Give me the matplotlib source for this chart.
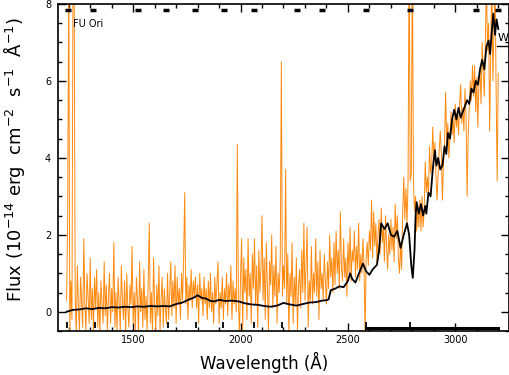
import numpy as np
import matplotlib
matplotlib.use("Agg")
import matplotlib.pyplot as plt
from matplotlib.ticker import MultipleLocator

# ---- data -------------------------------------------------------------
# observed IUE spectrum (orange), sampled every 5 A starting at 1190 A
obs_start = 1190
obs_step = 5
obs_flux = [
    0.3, 2.4, 9.0, -0.5, 0.8, -0.2, 9.0, 9.0, 0.4, -0.6,   # 1190
    1.2, 0.1, -0.5, 0.9, 0.3, -0.4, 1.9, 0.2, -0.5, 1.0,   # 1240
    0.4, -0.3, 1.4, -0.2, 0.6, -0.5, 0.9, 0.1, 1.1, -0.4,  # 1290
    0.5, -0.6, 0.8, 0.2, -0.3, 1.3, -0.1, 0.7, -0.5, 0.4,  # 1340
    1.0, -0.3, 0.6, 0.0, 1.8, -0.4, 0.5, -0.5, 0.9, 0.2,   # 1390
    -0.5, 1.2, 0.3, -0.2, 0.8, -0.6, 1.0, 0.1, -0.4, 0.7,  # 1440
    0.2, 1.7, -0.3, 0.5, -0.5, 0.9, 0.3, -0.6, 1.3, 0.0,   # 1490
    0.6, -0.4, 1.1, -0.2, 0.4, -0.5, 0.8, 2.3, -0.3, 0.5,  # 1540
    -0.6, 1.4, 0.2, -0.5, 0.7, -0.1, 1.2, -0.5, 0.3, 0.9,  # 1590
    -0.4, 0.6, 0.1, -0.3, 1.0, -0.2, 0.5, 1.3, -0.1, 0.8,  # 1640
    0.1, 1.2, -0.3, 0.9, 0.2, 0.6, -0.2, 1.0, 0.3, 1.4,    # 1690
    3.1, 0.2, 0.9, -0.2, 0.7, 0.3, 1.1, 0.1, 0.8, 0.4,     # 1740
    0.9, 0.1, 0.7, -0.3, 1.0, 0.3, 0.6, -0.1, 0.9, 0.2,    # 1790
    0.6, -0.2, 0.8, 0.1, 1.0, 0.0, 0.5, -0.3, 0.9, 0.2,    # 1840
    0.7, 1.3, -0.3, 0.5, 0.1, 0.9, -0.2, 0.6, 0.2, 1.0,    # 1890
    -0.1, 0.7, 0.3, 1.2, -0.2, 0.8, 0.2, 0.6, 0.0, 4.35,   # 1940
    0.3, -0.6, 0.9, 1.9, -0.5, 1.4, 0.5, 1.1, -0.2, 1.9,   # 1990
    0.4, 1.0, -0.3, 1.5, 0.6, 1.9, 0.2, 1.2, -0.4, 1.6,    # 2040
    0.5, 1.1, 2.5, 0.3, 1.4, -0.2, 1.8, 0.6, -0.5, 1.3,    # 2090
    0.7, 2.0, 0.1, 1.2, 0.4, 1.7, -0.3, 1.0, 0.5, 1.4,     # 2140
    6.5, 0.4, 1.2, 0.6, 3.7, 0.2, 1.5, -0.6, 1.0, 0.4,     # 2190
    1.8, -0.3, 0.9, 0.2, 1.4, -0.5, 0.7, 1.1, 0.1, 1.6,    # 2240
    0.5, 2.3, 0.3, 1.2, 2.2, -0.4, 0.8, 0.3, 1.7, 0.2,     # 2290
    1.0, 0.5, 1.9, 0.4, 1.3, -0.2, 1.6, 0.6, 1.0, 0.3,     # 2340
    1.5, 0.8, 0.2, 1.3, 0.6, 2.0, 0.9, 1.4, 0.5, 1.8,      # 2390
    0.7, 2.1, 1.0, 1.6, 0.6, 2.6, 1.1, 0.8, 1.9, 0.9,      # 2440
    1.4, 0.4, 1.8, 1.0, 2.2, 0.8, 1.6, 1.3, 2.1, 0.9,      # 2490
    1.7, 1.1, 2.3, 0.8, 1.5, 1.0, 1.9, 1.2, -0.6, 1.4,     # 2540
    1.8, 1.2, 2.1, 1.6, 2.9, 1.4, 2.6, 1.7, 2.3, 1.3,      # 2590
    2.0, 2.4, 1.5, 2.7, 1.8, 2.2, 1.3, 2.5, 1.7, 1.1,      # 2640
    2.0, 1.5, 2.4, 1.6, 2.2, 1.3, 2.8, 1.9, 2.5, 1.4,      # 2690
    1.0, 1.8, 1.1, 2.6, 3.5, 2.4, 3.2, 2.3, 3.4, 9.5,      # 2740
    3.4, 3.6, 9.5, 3.4, 2.6, 3.0, 2.1, 2.7, 2.2, 2.9,      # 2790
    2.1, 3.0, 2.2, 2.6, 3.9, 3.1, 3.5, 3.0, 4.3, 3.6,      # 2840
    3.8, 4.8, 3.9, 4.4, 3.5, 2.9, 3.6, 4.2, 4.7, 4.1,      # 2890
    2.9, 3.9, 4.4, 5.7, 4.3, 4.9, 4.0, 4.5, 5.2, 4.6,      # 2940
    5.0, 4.4, 5.4, 4.8, 5.2, 4.6, 5.4, 5.9, 4.9, 5.3,      # 2990
    4.7, 5.8, 5.1, 3.0, 4.6, 5.3, 6.0, 5.5, 6.4, 5.6,      # 3040
    6.4, 5.2, 6.1, 4.8, 5.9, 6.3, 5.4, 7.0, 6.2, 5.6,      # 3090
    7.1, 8.6, 6.8, 7.5, 4.7, 6.9, 8.7, 6.0, 7.4, 8.6,      # 3140
    5.8, 3.4, 6.2,                                         # 3190
]

# model spectrum (black)
model_wl = [1190, 1220, 1250, 1280, 1310, 1340, 1370, 1400, 1430, 1460,
            1490, 1520, 1550, 1580, 1610, 1640, 1670, 1700, 1730, 1760,
            1780, 1800, 1820, 1840, 1860, 1880, 1900, 1930, 1960, 1990,
            2020, 2050, 2080, 2110, 2140, 2170, 2200, 2230, 2260, 2290,
            2320, 2350, 2380, 2400, 2410, 2420, 2440, 2460, 2480, 2500,
            2510, 2520, 2535, 2550, 2570, 2585, 2600, 2615, 2635, 2645,
            2655, 2670, 2685, 2700, 2715, 2730, 2745, 2760, 2775, 2785,
            2795, 2802, 2810, 2815, 2820, 2830, 2840, 2850, 2860, 2865,
            2875, 2885, 2895, 2905, 2912, 2920, 2930, 2940, 2950, 2958,
            2966, 2975, 2985, 2995, 3005, 3015, 3025, 3035, 3045, 3055,
            3065, 3075, 3085, 3095, 3105, 3115, 3125, 3135, 3145, 3155,
            3162, 3170, 3177, 3185, 3192, 3200]
model_flux = [0.0, 0.05, 0.06, 0.09, 0.07, 0.10, 0.09, 0.12, 0.11, 0.13,
              0.12, 0.14, 0.13, 0.15, 0.14, 0.15, 0.14, 0.20, 0.24, 0.32,
              0.36, 0.43, 0.36, 0.34, 0.28, 0.27, 0.31, 0.28, 0.29, 0.27,
              0.22, 0.19, 0.18, 0.15, 0.13, 0.16, 0.23, 0.19, 0.16, 0.20,
              0.24, 0.25, 0.29, 0.30, 0.32, 0.56, 0.60, 0.66, 0.64, 0.80,
              1.00, 0.85, 0.76, 0.98, 1.25, 1.05, 0.96, 1.10, 1.22, 1.60,
              2.30, 2.15, 2.30, 2.00, 1.95, 2.10, 1.66, 2.00, 2.30, 2.00,
              1.20, 0.88, 1.60, 2.50, 2.85, 2.55, 2.80, 2.50, 2.75, 2.55,
              3.10, 3.00, 3.70, 4.20, 3.80, 4.00, 3.70, 3.80, 4.30, 4.10,
              4.65, 4.50, 5.00, 5.25, 5.00, 5.30, 5.05, 5.20, 5.35, 5.50,
              5.40, 5.80, 5.70, 6.00, 5.90, 6.30, 6.55, 6.30, 6.90, 7.05,
              6.70, 7.30, 7.75, 7.20, 7.60, 7.35]

# data-quality flags
top_flag_wl = [1197, 1313, 1522, 1653, 1788, 1923, 2062, 2263, 2379, 2584,
               2789, 3098, 3201]
bottom_flag_wl = [1192, 1322, 1662, 1792, 1918, 2062, 2193, 2584, 2789]
bad_range = [2584, 3200]

xticks = [1500, 2000, 2500, 3000]
yticks = [0, 2, 4, 6, 8]

# ---- figure -----------------------------------------------------------
W, H = 510, 375
fig = plt.figure(figsize=(W / 100, H / 100), dpi=100)
ax = fig.add_axes([58 / W, 1 - 331 / H, (509 - 58) / W, (331 - 4) / H])

obs_wl = obs_start + obs_step * np.arange(len(obs_flux))
ax.plot(obs_wl, obs_flux, color="#ff8a10", lw=0.7, zorder=2)
ax.plot(model_wl, model_flux, color="black", lw=1.3, zorder=3)

ax.plot(top_flag_wl, [7.84] * len(top_flag_wl), ls="none", marker="_",
        ms=5, mew=2.5, color="black", zorder=4)
ax.plot(bottom_flag_wl, [-0.34] * len(bottom_flag_wl), ls="none", marker="|",
        ms=4, mew=1.3, color="black", zorder=4)
ax.plot(bad_range, [-0.42, -0.42], color="black", lw=2.2, zorder=4)

ax.set_xlim(1150, 3250)
ax.set_ylim(-0.5, 8)
ax.set_xticks(xticks)
ax.set_yticks(yticks)
ax.xaxis.set_minor_locator(MultipleLocator(100))
ax.yaxis.set_minor_locator(MultipleLocator(0.5))
ax.tick_params(which="both", direction="in", top=True, right=True,
               labelsize=7, width=1.0)
ax.tick_params(axis="x", which="major", pad=3)
ax.tick_params(axis="y", which="major", pad=5)
ax.tick_params(which="major", length=6)
ax.tick_params(which="minor", length=3)
for s in ax.spines.values():
    s.set_linewidth(1.2)

ax.text(1220, 7.48, "FU Ori", fontsize=7, ha="left", va="center")

# right-side marker
ax.plot([3195, 3270], [6.91, 6.91], color="black", lw=1.0, clip_on=False)
fig.text(498 / W, 1 - 38 / H, "W", fontsize=8, ha="left", va="center")

fig.text(264 / W, 1 - 362 / H, "Wavelength (Å)", fontsize=12,
         ha="center", va="center")
fig.text(14 / W, 1 - 160 / H,
         "Flux (10$^{-14}$ erg  cm$^{-2}$  s$^{-1}$  Å$^{-1}$)", fontsize=13,
         ha="center", va="center", rotation=90)

fig.savefig("out.png", dpi=100)
